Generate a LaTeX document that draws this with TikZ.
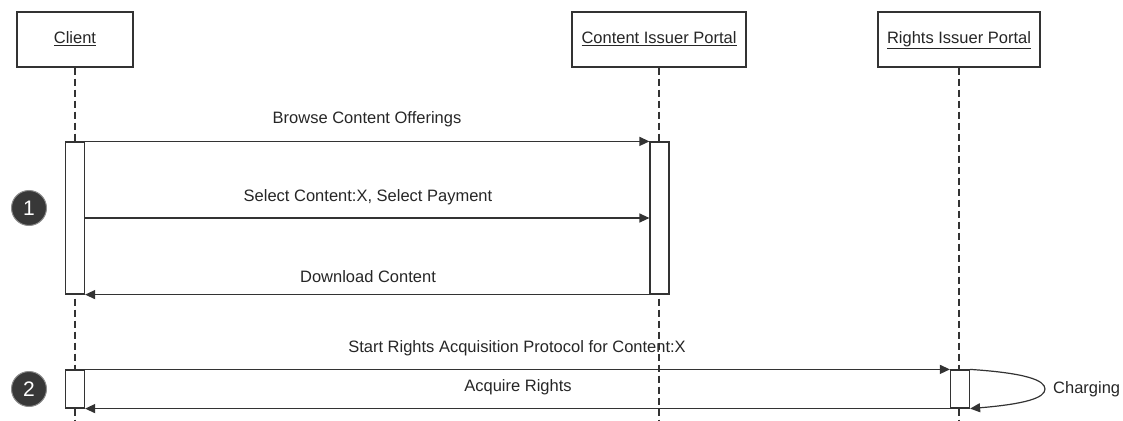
\documentclass[tikz,border=0pt]{standalone}
\usepackage{fontspec}
\setmainfont{Liberation Sans}
\usetikzlibrary{arrows.meta,calc}
\begin{document}
\begin{tikzpicture}[x=1pt,y=-1pt,
  ln/.style={draw=black!80, line width=1.2pt},
  objbox/.style={draw=black!80, line width=1.2pt, fill=white, minimum height=55pt, inner sep=0pt, font=\fontsize{16.5}{18}\selectfont, text=black!85, text height=12pt, text depth=3.5pt},
  actbox/.style={draw=black!80, line width=1.2pt, fill=white, minimum width=19pt, inner sep=0pt},
  msg/.style={ln, -{Triangle[length=10pt,width=9pt]}},
  lbl/.style={font=\fontsize{16.5}{18}\selectfont, inner sep=0pt, text=black!85, text height=12pt, text depth=3.5pt},
  life/.style={draw=black!80, line width=1.2pt, dash pattern=on 7pt off 4pt},
  num/.style={circle, fill=black!78, draw=black!45, line width=1pt, minimum size=35pt, inner sep=0pt, text=white, font=\fontsize{21}{22}\selectfont}
]
\useasboundingbox (0,0) rectangle (1123,420);

% object boxes
\node[objbox, minimum width=116pt] (cl) at (75,39.5) {\underline{Client}};
\node[objbox, minimum width=174pt] (ci) at (659,39.5) {\underline{Content Issuer Portal}};
\node[objbox, minimum width=162pt] (ri) at (959,39.5) {\underline{Rights Issuer Portal}};

% lifeline ends
\coordinate (clend) at (75,420);
\coordinate (ciend) at (659,420);
\coordinate (riend) at (959,420);

% activation boxes (positions only, drawn later)
\path (75,218) node[actbox, minimum height=152pt, draw=none, fill=none] (a1) {};
\path (659.5,218) node[actbox, minimum height=152pt, draw=none, fill=none] (c1) {};
\path (75,389) node[actbox, minimum height=38pt, draw=none, fill=none] (a2) {};
\path (960,389) node[actbox, minimum height=38pt, draw=none, fill=none] (r2) {};

% messages
\draw[msg] (a1.north east) -- (c1.north west);
\node[lbl] (m1) at (367,119) {Browse Content Offerings};
\draw[msg] (a1.east |- 0,218) -- (c1.west |- 0,218);
\node[lbl] (m2) at (368,197) {Select Content:X, Select Payment};
\draw[msg] (c1.south west) -- (a1.south east);
\node[lbl] (m3) at (368,278) {Download Content};

\draw[msg] (a2.north east) -- (r2.north west);
\node[lbl] (m4) at (517,348) {Start Rights Acquisition Protocol for Content:X};
\draw[msg] (r2.south west) -- (a2.south east);
\node[lbl] (m5) at (518,387) {Acquire Rights};

% self call
\coordinate (tip) at (1045,389);
\draw[msg] (r2.north east) .. controls (1025,373) and (1045,380) .. (tip) .. controls (1045,398) and (1025,404) .. (r2.south east);
\node[lbl, anchor=west] (chg) at (1053,389) {Charging};

% lifelines
\draw[life] (cl.south) -- (clend);
\draw[life] (ci.south) -- (ciend);
\draw[life] (ri.south) -- (riend);

% activation boxes on top
\node[actbox, minimum height=152pt] at (a1) {};
\node[actbox, minimum height=152pt] at (c1) {};
\node[actbox, minimum height=38pt] at (a2) {};
\node[actbox, minimum height=38pt] at (r2) {};

% step numbers
\node[num] (n1) at (29,208) {1};
\node[num] (n2) at (29,389) {2};
\end{tikzpicture}
\end{document}
